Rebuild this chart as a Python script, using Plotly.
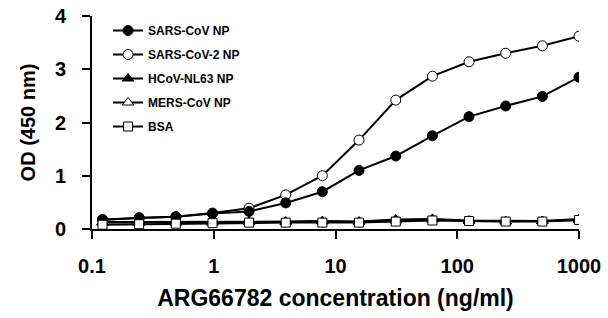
import plotly.graph_objects as go

conc = [0.122, 0.244, 0.488, 0.977, 1.95, 3.9, 7.8, 15.6, 31.25, 62.5, 125, 250, 500, 1000]
sars_cov = [0.18, 0.21, 0.23, 0.29, 0.33, 0.49, 0.70, 1.10, 1.37, 1.75, 2.11, 2.31, 2.49, 2.85]
sars_cov2 = [0.17, 0.21, 0.23, 0.30, 0.39, 0.64, 1.00, 1.67, 2.42, 2.87, 3.14, 3.30, 3.44, 3.62]
hcov_nl63 = [0.13, 0.13, 0.13, 0.13, 0.14, 0.14, 0.15, 0.14, 0.18, 0.19, 0.16, 0.15, 0.15, 0.19]
mers_cov = [0.12, 0.12, 0.12, 0.12, 0.13, 0.13, 0.14, 0.13, 0.16, 0.18, 0.15, 0.14, 0.15, 0.17]
bsa = [0.08, 0.09, 0.10, 0.11, 0.12, 0.12, 0.12, 0.12, 0.14, 0.16, 0.15, 0.14, 0.14, 0.17]

x_ticks = [0.1, 1, 10, 100, 1000]
x_ticklabels = ["0.1", "1", "10", "100", "1000"]
y_ticks = [0, 1, 2, 3, 4]

FONT = "Arial, Liberation Sans, sans-serif"

series = [
    # (name, values, symbol, fill, legend rank)
    ("SARS-CoV-2 NP", sars_cov2, "circle", "white", 2),
    ("SARS-CoV NP", sars_cov, "circle", "black", 1),
    ("MERS-CoV NP", mers_cov, "triangle-up", "white", 4),
    ("HCoV-NL63 NP", hcov_nl63, "triangle-up", "black", 3),
    ("BSA", bsa, "square", "white", 5),
]

fig = go.Figure()
for name, vals, sym, fill, rank in series:
    fig.add_trace(go.Scatter(
        x=conc, y=vals, name=name, mode="lines+markers",
        line=dict(color="black", width=2),
        marker=dict(symbol=sym, size=10 if sym != "square" else 9, color=fill,
                    line=dict(color="black", width=1)),
        legendgroup=name, legendrank=rank,
    ))

fig.update_layout(
    width=608, height=318,
    margin=dict(l=92, r=29, t=16, b=89, autoexpand=False),
    paper_bgcolor="white", plot_bgcolor="white",
    font=dict(family=FONT, color="black"),
    showlegend=True,
    legend=dict(
        x=0.033, y=1.0, xanchor="left", yanchor="top",
        font=dict(family=FONT, size=12, color="black", weight="bold"),
        bgcolor="rgba(0,0,0,0)", traceorder="grouped", tracegroupgap=5,
        itemwidth=30,
    ),
    xaxis=dict(
        type="log", range=[-1, 3], automargin=False,
        tickvals=x_ticks, ticktext=x_ticklabels,
        showline=True, linecolor="black", linewidth=2,
        ticks="outside", ticklen=8, tickwidth=2, tickcolor="black",
        showgrid=False, zeroline=False,
        tickfont=dict(family=FONT, size=20, weight="bold"),
        ticklabelstandoff=10,
        title=dict(text="ARG66782 concentration (ng/ml)",
                   font=dict(family=FONT, size=23, weight="bold"), standoff=14),
    ),
    yaxis=dict(
        range=[0, 4], tickvals=y_ticks, automargin=False,
        showline=True, linecolor="black", linewidth=2,
        ticks="outside", ticklen=8, tickwidth=2, tickcolor="black",
        showgrid=False, zeroline=False,
        tickfont=dict(family=FONT, size=20, weight="bold"),
        ticklabelstandoff=12,
        title=dict(text="OD (450 nm)",
                   font=dict(family=FONT, size=20, weight="bold"), standoff=14),
    ),
)

fig.write_html("out.html", config={"displayModeBar": False},
               post_script="document.body.style.margin='0';")
